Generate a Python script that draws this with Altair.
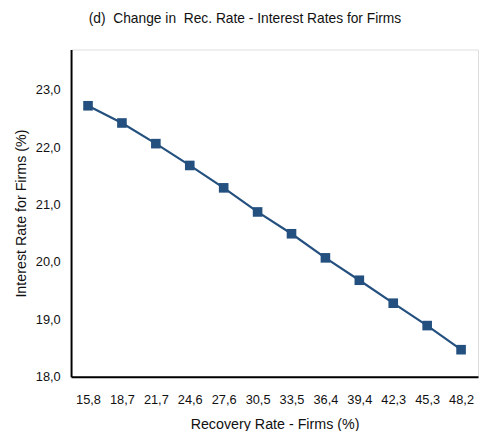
import altair as alt
import pandas as pd

recovery = ["15,8", "18,7", "21,7", "24,6", "27,6", "30,5",
            "33,5", "36,4", "39,4", "42,3", "45,3", "48,2"]
rate = [22.72, 22.42, 22.06, 21.68, 21.29, 20.87,
        20.49, 20.07, 19.68, 19.28, 18.89, 18.47]
y_ticks = [18, 19, 20, 21, 22, 23]

df = pd.DataFrame({"recovery": recovery, "rate": rate})

FONT = "Liberation Sans"
COLOR = "#24507f"
NB = "\u00a0"

x = alt.X("recovery:N", sort=recovery,
          scale=alt.Scale(type="point", padding=0.5),
          axis=alt.Axis(title="Recovery Rate - Firms (%)", labelAngle=0,
                        ticks=False, grid=False, domainColor="black",
                        domainWidth=2, labelPadding=17, titlePadding=12,
                        labelFontSize=13, titleFontSize=14.5,
                        labelFont=FONT, titleFont=FONT,
                        labelColor="#111", titleColor="#111",
                        titleFontWeight="normal"))
y = alt.Y("rate:Q",
          scale=alt.Scale(domain=[18, 23.7], nice=False, zero=False),
          axis=alt.Axis(title="Interest Rate for Firms (%)", values=y_ticks,
                        labelExpr="replace(format(datum.value, '.1f'), '.', ',')",
                        ticks=False, grid=False, domainColor="black",
                        domainWidth=2, labelPadding=11, titlePadding=7,
                        labelFontSize=13, titleFontSize=14.5,
                        labelFont=FONT, titleFont=FONT,
                        labelColor="#111", titleColor="#111",
                        titleFontWeight="normal"))

base = alt.Chart(df).encode(x=x, y=y)
line = base.mark_line(color=COLOR, strokeWidth=2.2)
pts = base.mark_point(shape="square", filled=True, color=COLOR, size=95, opacity=1)

title_text = "(d)" + NB + " Change in" + NB + " Rec. Rate - Interest Rates for Firms"

chart = (line + pts).properties(
    width=413, height=332,
    title=alt.TitleParams(title_text,
                          font=FONT, fontSize=14, fontWeight="normal",
                          color="#111", anchor="middle", dx=-30, offset=24),
    autosize=alt.AutoSizeParams(type="none"),
    padding={"left": 64, "top": 39, "right": 2, "bottom": 52},
).configure_view(stroke=None).configure(background="white")

chart.save("out.html", embed_options={"renderer": "svg", "actions": False})
